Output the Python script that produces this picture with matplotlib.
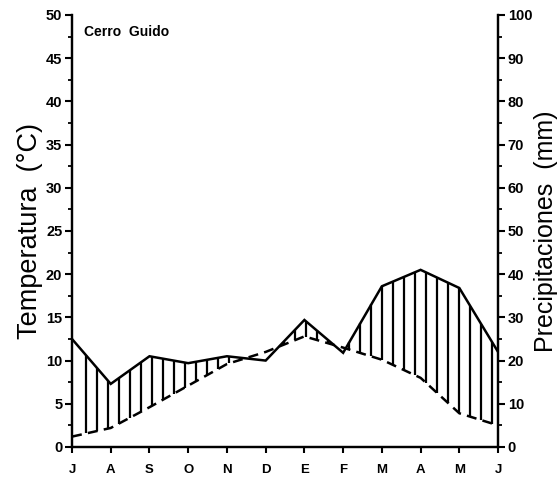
import numpy as np
import matplotlib
matplotlib.use('Agg')
import matplotlib.pyplot as plt
from matplotlib.ticker import MultipleLocator

plt.rcParams['font.family'] = ['Liberation Sans', 'DejaVu Sans']

# Climate data, July to June
months = ['J', 'A', 'S', 'O', 'N', 'D', 'E', 'F', 'M', 'A', 'M', 'J']
temp_c = [1.2, 2.2, 4.6, 7.1, 9.6, 11.0, 12.8, 11.5, 10.1, 8.0, 3.9, 2.5]
precip_mm = [25.0, 14.6, 21.0, 19.4, 21.0, 20.0, 29.4, 21.8, 37.2, 41.0, 36.8, 22.0]
station = 'Cerro  Guido'

x = np.arange(len(months))
temp = np.array(temp_c)
precip = np.array(precip_mm)

fig = plt.figure(figsize=(5.59, 4.8), dpi=100)
ax = fig.add_axes([0.1288, 0.0688, 0.7622, 0.9000])
ax2 = ax.twinx()

ax.set_xlim(0, 11)
ax.set_ylim(0, 50)
ax2.set_ylim(0, 100)

# precipitation on the temperature scale (1 degC = 2 mm)
p_on_t = precip / 2.0

# vertical hatching where precipitation exceeds temperature
hx = np.linspace(0.36, 10.85, 38)
ht = np.interp(hx, x, temp)
hp = np.interp(hx, x, p_on_t)
wet = hp > ht
ax.vlines(hx[wet], ht[wet], hp[wet], color='black', lw=1.6)

ax.plot(x, p_on_t, color='black', lw=1.8, solid_joinstyle='miter')
ax.plot(x, temp, color='black', lw=1.8, dashes=(4, 2.5))

# axes styling
ax.spines['top'].set_visible(False)
ax2.spines['top'].set_visible(False)
for a in (ax, ax2):
    for s in a.spines.values():
        s.set_linewidth(1.6)

ax.set_xticks(x)
ax.set_xticklabels(months, fontsize=9.5, fontweight='bold')
ax.tick_params(axis='x', direction='out', length=4, width=1.5, pad=8)

ax.yaxis.set_major_locator(MultipleLocator(5))
ax.yaxis.set_minor_locator(MultipleLocator(2.5))
ax.tick_params(axis='y', which='major', direction='out', length=5, width=1.5,
               labelsize=10.5, pad=2)
ax.tick_params(axis='y', which='minor', direction='out', length=3, width=1.3)

ax2.yaxis.set_major_locator(MultipleLocator(10))
ax2.yaxis.set_minor_locator(MultipleLocator(5))
ax2.tick_params(axis='y', which='major', direction='out', length=5, width=1.5,
                labelsize=10.5, pad=2)
ax2.tick_params(axis='y', which='minor', direction='out', length=3, width=1.3)

for lab in ax.get_yticklabels() + ax2.get_yticklabels():
    lab.set_fontweight('bold')

ax.set_ylabel('Temperatura  (°C)', fontsize=19.5, labelpad=2)
ax2.set_ylabel('Precipitaciones  (mm)', fontsize=18, labelpad=1)

ax.text(0.3, 48.0, station, fontsize=10, fontweight='bold', va='center')

fig.savefig('out.png', dpi=100)
